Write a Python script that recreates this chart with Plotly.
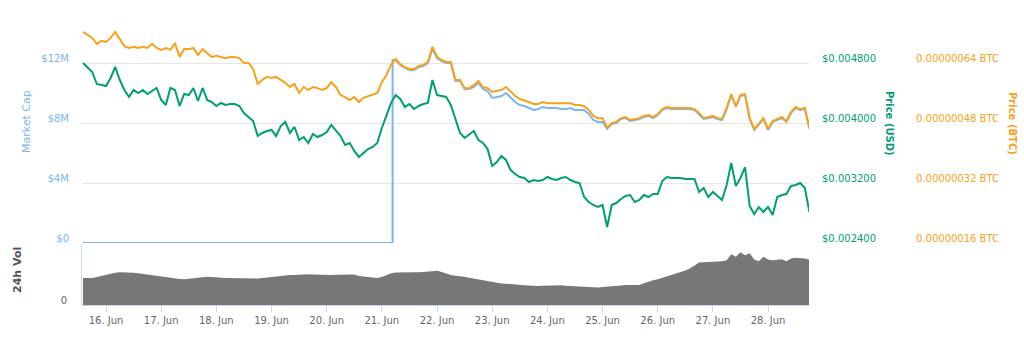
import pandas as pd
import plotly.graph_objects as go

# ---- data -------------------------------------------------------------
# 2-hourly samples, 15 Jun 14:00 -> 28 Jun 18:00
times = pd.date_range("2018-06-15 14:00", periods=159, freq="2h")

price_usd = [
    0.004800, 0.004733, 0.004680, 0.004520, 0.004507, 0.004493, 0.004600, 0.004747, 0.004573, 0.004440,
    0.004347, 0.004440, 0.004400, 0.004440, 0.004387, 0.004427, 0.004467, 0.004307, 0.004240, 0.004467,
    0.004440, 0.004227, 0.004387, 0.004373, 0.004467, 0.004293, 0.004467, 0.004307, 0.004280, 0.004227,
    0.004267, 0.004240, 0.004253, 0.004253, 0.004227, 0.004133, 0.004080, 0.004027, 0.003827, 0.003867,
    0.003893, 0.003907, 0.003827, 0.003960, 0.004013, 0.003867, 0.003947, 0.003773, 0.003813, 0.003733,
    0.003853, 0.003813, 0.003840, 0.003880, 0.003973, 0.003893, 0.003827, 0.003707, 0.003733, 0.003627,
    0.003547, 0.003600, 0.003653, 0.003680, 0.003733, 0.003933, 0.004107, 0.004267, 0.004373, 0.004320,
    0.004213, 0.004253, 0.004187, 0.004227, 0.004253, 0.004267, 0.004573, 0.004373, 0.004360, 0.004347,
    0.004240, 0.004053, 0.003867, 0.003800, 0.003853, 0.003893, 0.003773, 0.003733, 0.003653, 0.003427,
    0.003480, 0.003560, 0.003507, 0.003373, 0.003320, 0.003280, 0.003267, 0.003213, 0.003240, 0.003227,
    0.003240, 0.003280, 0.003253, 0.003240, 0.003267, 0.003280, 0.003240, 0.003213, 0.003200, 0.003013,
    0.002947, 0.002907, 0.002880, 0.002907, 0.002613, 0.002907, 0.002933, 0.002987, 0.003027, 0.003040,
    0.002947, 0.002973, 0.003040, 0.003013, 0.003053, 0.003053, 0.003227, 0.003280, 0.003267, 0.003267,
    0.003267, 0.003253, 0.003253, 0.003253, 0.003080, 0.003133, 0.003013, 0.003080, 0.003027, 0.002973,
    0.003173, 0.003467, 0.003160, 0.003267, 0.003413, 0.002893, 0.002787, 0.002880, 0.002813, 0.002880,
    0.002773, 0.003013, 0.003040, 0.003053, 0.003160, 0.003173, 0.003200, 0.003133, 0.002813,
]

price_btc = [
    7.23e-7, 7.15e-7, 7.07e-7, 6.91e-7, 6.99e-7, 6.96e-7, 7.07e-7, 7.23e-7, 7.04e-7, 6.85e-7,
    6.80e-7, 6.83e-7, 6.80e-7, 6.83e-7, 6.80e-7, 6.91e-7, 6.80e-7, 6.75e-7, 6.80e-7, 6.75e-7,
    6.93e-7, 6.56e-7, 6.77e-7, 6.77e-7, 6.80e-7, 6.61e-7, 6.77e-7, 6.67e-7, 6.56e-7, 6.59e-7,
    6.56e-7, 6.53e-7, 6.56e-7, 6.56e-7, 6.53e-7, 6.40e-7, 6.40e-7, 6.24e-7, 5.84e-7, 5.95e-7,
    6.03e-7, 6.00e-7, 6.03e-7, 5.95e-7, 5.87e-7, 5.76e-7, 5.84e-7, 5.60e-7, 5.76e-7, 5.68e-7,
    5.76e-7, 5.73e-7, 5.68e-7, 5.73e-7, 5.89e-7, 5.76e-7, 5.55e-7, 5.49e-7, 5.41e-7, 5.49e-7,
    5.36e-7, 5.47e-7, 5.52e-7, 5.55e-7, 5.60e-7, 5.89e-7, 6.08e-7, 6.35e-7, 6.51e-7, 6.37e-7,
    6.29e-7, 6.24e-7, 6.24e-7, 6.32e-7, 6.35e-7, 6.43e-7, 6.83e-7, 6.56e-7, 6.48e-7, 6.43e-7,
    6.43e-7, 5.95e-7, 5.95e-7, 5.73e-7, 5.73e-7, 5.81e-7, 5.92e-7, 5.76e-7, 5.73e-7, 5.63e-7,
    5.65e-7, 5.68e-7, 5.76e-7, 5.65e-7, 5.52e-7, 5.44e-7, 5.41e-7, 5.36e-7, 5.31e-7, 5.31e-7,
    5.36e-7, 5.33e-7, 5.33e-7, 5.33e-7, 5.31e-7, 5.31e-7, 5.33e-7, 5.28e-7, 5.28e-7, 5.25e-7,
    5.15e-7, 4.99e-7, 4.93e-7, 4.93e-7, 4.67e-7, 4.80e-7, 4.83e-7, 4.93e-7, 4.96e-7, 4.88e-7,
    4.91e-7, 4.93e-7, 4.99e-7, 5.01e-7, 4.96e-7, 5.04e-7, 5.17e-7, 5.23e-7, 5.20e-7, 5.20e-7,
    5.20e-7, 5.20e-7, 5.20e-7, 5.17e-7, 5.07e-7, 4.93e-7, 4.96e-7, 4.99e-7, 4.93e-7, 4.91e-7,
    5.20e-7, 5.57e-7, 5.25e-7, 5.55e-7, 5.57e-7, 4.93e-7, 4.64e-7, 4.80e-7, 4.93e-7, 4.64e-7,
    4.85e-7, 4.91e-7, 4.96e-7, 4.85e-7, 5.09e-7, 5.23e-7, 5.17e-7, 5.20e-7, 4.67e-7,
]

# market cap is reported from its listing moment onwards (zero before)
mcap_listed_at = "2018-06-21 04:40"
mcap_listed_from_index = 68
market_cap_musd = [
    12.2, 11.87, 11.67, 11.53, 11.53, 11.73, 11.8, 12.0, 12.93, 12.33,
    12.13, 12.0, 12.0, 10.8, 10.8, 10.27, 10.27, 10.4, 10.67, 10.27,
    10.13, 9.67, 9.73, 9.8, 10.0, 9.73, 9.4, 9.2, 9.13, 9.0,
    8.87, 8.93, 9.07, 9.0, 9.0, 9.0, 8.93, 8.93, 9.0, 8.87,
    8.87, 8.87, 8.6, 8.2, 8.07, 8.07, 7.6, 7.93, 8.0, 8.27,
    8.33, 8.13, 8.2, 8.27, 8.4, 8.47, 8.33, 8.53, 8.87, 9.0,
    8.93, 8.93, 8.93, 8.93, 8.93, 8.87, 8.6, 8.27, 8.33, 8.4,
    8.27, 8.2, 8.93, 9.87, 9.07, 9.8, 9.87, 8.27, 7.53, 7.93,
    8.27, 7.53, 8.07, 8.2, 8.33, 8.07, 8.67, 9.0, 8.87, 8.93, 7.6,
]

# 24h volume, thousands of USD
volume_k = [
    130, 130, 131, 135, 140, 145, 152, 156, 158, 158,
    157, 156, 153, 150, 146, 142, 140, 137, 135, 130,
    127, 126, 125, 127, 130, 133, 136, 136, 135, 133,
    132, 131, 131, 130, 130, 129, 128, 128, 128, 130,
    131, 135, 138, 141, 143, 145, 145, 147, 150, 149,
    148, 147, 145, 145, 145, 146, 147, 148, 148, 148,
    140, 137, 135, 132, 130, 135, 145, 153, 157, 157,
    156, 155, 157, 158, 160, 161, 165, 166, 160, 152,
    145, 141, 140, 137, 132, 128, 125, 121, 115, 110,
    106, 104, 103, 102, 101, 98, 96, 94, 92, 92,
    93, 94, 95, 95, 95, 93, 92, 90, 88, 86,
    85, 85, 85, 87, 88, 90, 91, 94, 97, 97,
    96, 97, 105, 113, 120, 125, 132, 140, 146, 152,
    158, 167, 177, 192, 205, 207, 208, 207, 208, 212,
    216, 245, 233, 255, 240, 250, 220, 211, 233, 220,
    216, 220, 221, 211, 225, 228, 228, 225, 220,
]

mcap_ticks = [0, 4e6, 8e6, 12e6, 16e6]
mcap_labels = ["$0", "$4M", "$8M", "$12M", ""]
usd_ticks = [0.0024, 0.0032, 0.0040, 0.0048]
usd_labels = ["$0.002400", "$0.003200", "$0.004000", "$0.004800"]
btc_ticks = [1.6e-7, 3.2e-7, 4.8e-7, 6.4e-7]
btc_labels = ["0.00000016 BTC", "0.00000032 BTC", "0.00000048 BTC", "0.00000064 BTC"]

x_range = ["2018-06-15 13:33", "2018-06-28 17:49"]

# ---- styling ----------------------------------------------------------
BLUE = "#7cb5ec"
GREEN = "#009e73"
ORANGE = "#f9a11b"
GREY_FILL = "#777777"
AXIS_LINE = "#ccd6eb"
GRID = "#e6e6e6"
FONT = "DejaVu Sans"

W, H = 1024, 339
ML = 82
PLOT_R = 809
pw = W - ML
x_dom = [0, (PLOT_R - ML) / pw]


def py(px):
    return 1 - px / H


def pxx(px):
    return (px - ML) / pw


# ---- traces -----------------------------------------------------------
listed_times = list(times[mcap_listed_from_index:])
mcap_x = [times[0], pd.Timestamp(mcap_listed_at), pd.Timestamp(mcap_listed_at)] + listed_times
mcap_y = [0, 0, market_cap_musd[0] * 1e6] + [v * 1e6 for v in market_cap_musd]

fig = go.Figure()
fig.add_trace(go.Scatter(x=mcap_x, y=mcap_y, mode="lines", xaxis="x", yaxis="y",
                         line=dict(color=BLUE, width=2), name="Market Cap"))
fig.add_trace(go.Scatter(x=times, y=price_usd, mode="lines", xaxis="x", yaxis="y2",
                         line=dict(color=GREEN, width=2), name="Price (USD)"))
fig.add_trace(go.Scatter(x=times, y=price_btc, mode="lines", xaxis="x", yaxis="y3",
                         line=dict(color=ORANGE, width=2), name="Price (BTC)"))
fig.add_trace(go.Scatter(x=times, y=volume_k, mode="lines", xaxis="x2", yaxis="y4",
                         fill="tozeroy", fillcolor=GREY_FILL, line=dict(width=0, color=GREY_FILL),
                         name="24h Vol"))

fig.update_layout(
    width=W, height=H,
    margin=dict(l=ML, r=0, t=0, b=0, autoexpand=False),
    paper_bgcolor="white", plot_bgcolor="white",
    showlegend=False,
    font=dict(family=FONT, size=10, color="#666666"),
    xaxis=dict(domain=x_dom, range=x_range, anchor="y", showticklabels=False,
               showgrid=False, zeroline=False, showline=False, ticks="", automargin=False),
    xaxis2=dict(domain=x_dom, range=x_range, anchor="y4", tickformat="%-d. %b",
                dtick=86400000, tick0="2018-06-16", ticks="outside", ticklen=6,
                tickcolor=AXIS_LINE, showline=True, linecolor=AXIS_LINE, linewidth=1,
                showgrid=False, zeroline=False, automargin=False,
                tickfont=dict(family=FONT, size=10, color="#666666")),
    yaxis=dict(domain=[py(243), py(3)], range=[0, 16e6], anchor="x",
               tickvals=mcap_ticks, ticktext=mcap_labels,
               showgrid=True, gridcolor=GRID, gridwidth=1, zeroline=False, showline=False,
               ticks="", ticklabelstandoff=12, ticklabelshift=-5, automargin=False,
               tickfont=dict(family=FONT, size=10, color=BLUE)),
    yaxis2=dict(overlaying="y", side="right", anchor="free", position=pxx(821),
                range=[0.0024, 0.0056], tickvals=usd_ticks, ticktext=usd_labels,
                showgrid=False, zeroline=False, showline=False, ticks="", automargin=False,
                ticklabelshift=-5, tickfont=dict(family=FONT, size=10, color=GREEN)),
    yaxis3=dict(overlaying="y", side="right", anchor="free", position=pxx(915),
                range=[1.6e-7, 8e-7], tickvals=btc_ticks, ticktext=btc_labels,
                showgrid=False, zeroline=False, showline=False, ticks="", automargin=False,
                ticklabelshift=-5, tickfont=dict(family=FONT, size=10, color=ORANGE)),
    yaxis4=dict(domain=[py(305), py(245)], range=[0, 290], anchor="x2",
                tickvals=[0], ticktext=["0"], showgrid=False, zeroline=False,
                showline=True, linecolor=AXIS_LINE, linewidth=1, ticks="", automargin=False,
                ticklabelstandoff=12, ticklabelshift=-5,
                tickfont=dict(family=FONT, size=10, color="#666666")),
    annotations=[
        dict(text="Market Cap", xref="paper", yref="paper", x=pxx(27), y=py(122),
             xanchor="center", yanchor="middle",
             textangle=-90, showarrow=False, font=dict(family=FONT, size=11, color=BLUE)),
        dict(text="<b>24h Vol</b>", xref="paper", yref="paper", x=pxx(17), y=py(270),
             xanchor="center", yanchor="middle",
             textangle=-90, showarrow=False, font=dict(family=FONT, size=11, color="#555555")),
        dict(text="<b>Price (USD)</b>", xref="paper", yref="paper", x=pxx(890), y=py(123),
             xanchor="center", yanchor="middle",
             textangle=90, showarrow=False, font=dict(family=FONT, size=10, color=GREEN)),
        dict(text="<b>Price (BTC)</b>", xref="paper", yref="paper", x=pxx(1013), y=py(123),
             xanchor="center", yanchor="middle",
             textangle=90, showarrow=False, font=dict(family=FONT, size=10, color=ORANGE)),
    ],
)

fig.write_html("out.html")
